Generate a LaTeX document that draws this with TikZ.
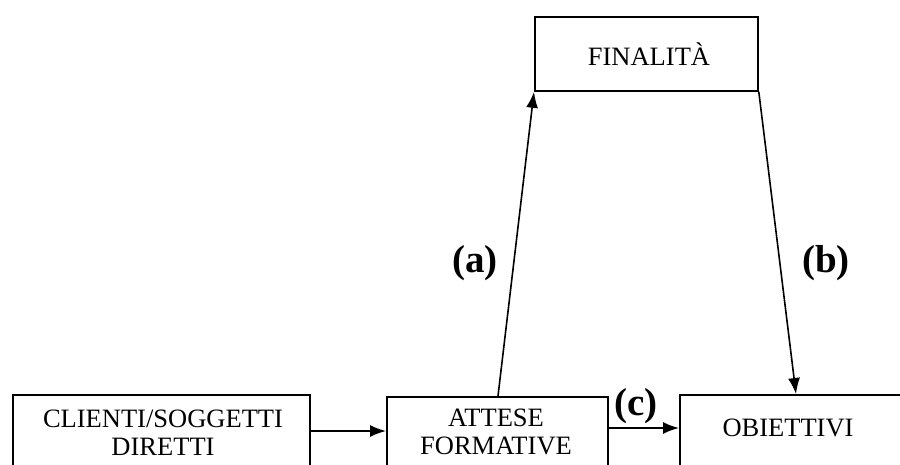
\documentclass[tikz,border=0pt]{standalone}
\usepackage{fontspec}
\setmainfont{Liberation Serif}
\usetikzlibrary{arrows.meta,calc}
\begin{document}
\begin{tikzpicture}[x=1pt,y=-1pt,
  box/.style={draw,line width=1.8pt,rectangle,anchor=north west,inner sep=0pt},
  txt/.style={align=center,font=\fontsize{26.5}{28}\selectfont,inner sep=0pt},
  lab/.style={font=\fontsize{39}{40}\selectfont\bfseries,inner sep=0pt},
  arr/.style={line width=1.6pt,-{Latex[length=16pt,width=12pt]}}]
\useasboundingbox (0,0) rectangle (900,464);
\clip (0,0) rectangle (900,464);
\fill[white] (0,0) rectangle (900,464);
% boxes
\node[box,minimum width=223pt,minimum height=74pt] (fin) at (534,16) {};
\node[box,minimum width=297pt,minimum height=100pt] (cli) at (12,394) {};
\node[box,minimum width=221pt,minimum height=100pt] (att) at (386,396) {};
\node[box,minimum width=260pt,minimum height=100pt] (obj) at (679,394) {};
% texts
\node[txt] (tfin) at (649,54) {FINALITÀ};
\node[txt] (tcli) at (163,433) {CLIENTI/SOGGETTI\\DIRETTI};
\node[txt] (tatt) at (496,432) {ATTESE\\FORMATIVE};
\node[txt] (tobj) at (788,428) {OBIETTIVI};
% connectors
\coordinate (cliout) at (cli.north east |- 0,431);
\coordinate (attin) at (att.north west |- 0,431);
\draw[arr] (cliout) -- (attin);
\coordinate (attout) at (att.north east |- 0,428);
\coordinate (objin) at (obj.north west |- 0,428);
\draw[arr] (attout) -- (objin);
\coordinate (atttop) at ($(att.north west)+(112,0)$);
\draw[arr] (atttop) -- (fin.south west);
\coordinate (objtop) at ($(obj.north west)+(117,0)$);
\draw[arr] (fin.south east) -- (objtop);
% labels
\node[lab] (la) at (475,263) {(a)};
\node[lab] (lb) at (826,263) {(b)};
\node[lab] (lc) at (636,406) {(c)};
\end{tikzpicture}
\end{document}
